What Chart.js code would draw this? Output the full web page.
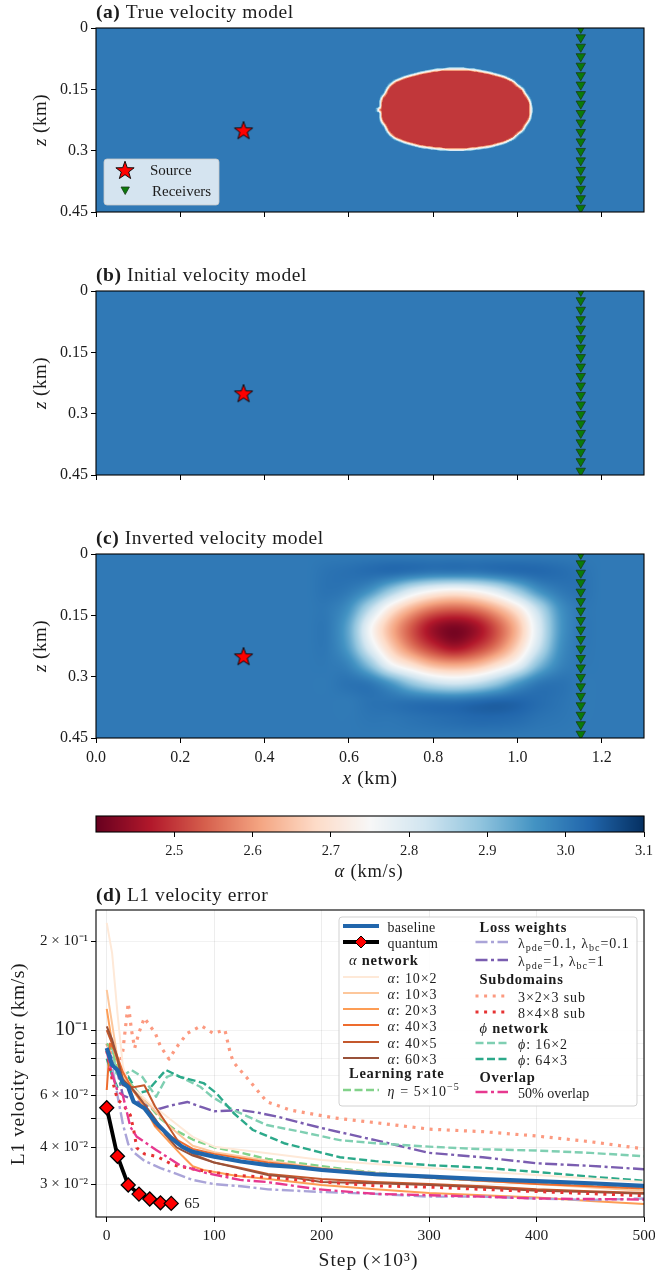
<!DOCTYPE html>
<html><head><meta charset="utf-8">
<script src="https://cdn.jsdelivr.net/npm/chart.js@4"></script>
<style>
html,body{margin:0;padding:0;background:#fff;width:655px;height:1273px;overflow:hidden}
canvas{position:absolute;left:0}
</style></head><body>
<canvas id="ca" width="655" height="240" style="top:0"></canvas>
<canvas id="cb" width="655" height="240" style="top:263px"></canvas>
<canvas id="cc" width="655" height="264" style="top:526px"></canvas>
<canvas id="cbar" width="655" height="95" style="top:790px"></canvas>
<canvas id="cd" width="655" height="388" style="top:885px"></canvas>
<script>
// ---------- velocity model data ----------
const sourceX=[0.35], sourceZ=[0.25];
const receiverZ=[0,0.0232,0.0463,0.0695,0.0926,0.1158,0.1389,0.1621,0.1853,0.2084,0.2316,0.2547,0.2779,0.3011,0.3242,0.3474,0.3705,0.3937,0.4168,0.44];
const receiverX=1.15;
const xTicks=[0,0.2,0.4,0.6,0.8,1.0,1.2];
const zTicks=[0,0.15,0.3,0.45];
const cbarTicks=[2.5,2.6,2.7,2.8,2.9,3.0,3.1];
const backgroundVelocity=3.0, anomalyVelocity=2.5;
// outline of the anomaly in the true model: depth, first and last x inside
const anomalyZ=[.100,.103,.11,.12,.13,.14,.15,.16,.17,.18,.195,.20,.205,.22,.23,.24,.25,.26,.27,.28,.29,.295,.298];
const anomalyX0=[.84,.805,.769,.733,.709,.697,.69,.686,.678,.675,.675,.665,.675,.675,.678,.686,.69,.697,.709,.733,.769,.805,.84];
const anomalyX1=[.87,.90,.935,.97,.99,1.0,1.013,1.018,1.025,1.03,1.032,1.032,1.032,1.03,1.025,1.018,1.013,1.0,.99,.97,.935,.90,.87];
// inverted model read on a coarse grid
const invX=[.5,.55,.6,.65,.7,.75,.8,.85,.9,.95,1.0,1.05,1.1,1.15,1.2];
const invZ=[0,.045,.09,.135,.18,.225,.27,.315,.36,.405,.45];
const invRow0=[3,3,3,3,3,3,3,3,3,3,3,3,3,3,3];
const invRow1=[3,3.01,3.015,3.02,3.02,3.01,3.0,3.0,3.0,3.01,3.02,3.025,3.02,3.01,3];
const invRow2=[3,3.01,3.0,2.96,2.88,2.80,2.75,2.73,2.75,2.80,2.88,2.96,3.0,3.01,3];
const invRow3=[3,3.0,2.96,2.84,2.71,2.62,2.56,2.54,2.56,2.62,2.71,2.84,2.96,3.0,3];
const invRow4=[3,3.0,2.93,2.76,2.63,2.53,2.45,2.42,2.45,2.53,2.64,2.80,2.95,3.0,3];
const invRow5=[3,3.0,2.94,2.79,2.66,2.56,2.49,2.45,2.49,2.56,2.67,2.82,2.96,3.0,3];
const invRow6=[3,3.0,2.98,2.89,2.76,2.69,2.63,2.61,2.63,2.69,2.77,2.90,2.98,3.0,3];
const invRow7=[3,3.0,3.01,3.0,2.95,2.88,2.83,2.81,2.83,2.88,2.95,3.0,3.01,3.0,3];
const invRow8=[3,3,3,3.01,3.01,3.01,3.01,3.01,3.02,3.03,3.03,3.02,3.01,3,3];
const invRow9=[3,3,3,3.005,3.005,3.01,3.015,3.02,3.025,3.025,3.02,3.01,3.005,3,3];
const invRow10=[3,3,3,3,3,3,3,3,3,3,3,3,3,3,3];
const invField=[invRow0,invRow1,invRow2,invRow3,invRow4,invRow5,invRow6,invRow7,invRow8,invRow9,invRow10];
const rdbuStops=['#67001f','#b2182b','#d6604d','#f4a582','#fddbc7','#f7f7f7','#d1e5f0','#92c5de','#4393c3','#2166ac','#053061'];
// ---------- L1 error curves: [step (x10^3), error (km/s)] ----------
const quantum=[[0,.0545],[10,.0373],[20,.0298],[30,.02775],[40,.0267],[50,.02592],[60,.0258]];
const baseline=[[0,.0869],[5,.0761],[10,.0732],[15,.0661],[20,.064],[25,.0571],[35,.0543],[45,.0488],[60,.043],[70,.0402],[80,.0386],[100,.0372],[125,.0358],[150,.0348],[175,.0343],[200,.0335],[250,.0324],[300,.0318],[350,.0312],[400,.0307],[450,.0302],[500,.0296]];
const a10x2=[[0,.231],[5,.1825],[10,.114],[15,.0755],[20,.066],[40,.0565],[60,.0495],[80,.0434],[100,.0402],[150,.0382],[200,.0362],[300,.034],[400,.0322],[500,.0305]];
const a10x3=[[0,.137],[5,.105],[10,.08],[15,.07],[25,.062],[40,.0555],[60,.0465],[80,.0405],[100,.0385],[150,.036],[200,.034],[300,.0315],[400,.03],[500,.0285]];
const a20x3=[[0,.118],[5,.09],[10,.078],[15,.068],[25,.062],[35,.055],[45,.047],[60,.041],[70,.0375],[80,.0345],[90,.0335],[120,.032],[150,.0312],[200,.0298],[250,.0288],[300,.028],[350,.0275],[400,.027],[450,.0263],[500,.0257]];
const a40x3=[[0,.0626],[3,.09],[8,.085],[15,.072],[25,.062],[35,.056],[45,.0475],[60,.0435],[80,.0395],[100,.038],[150,.0355],[200,.0338],[250,.0325],[300,.0315],[350,.0308],[400,.03],[450,.0295],[500,.029]];
const a40x5=[[0,.1],[5,.09],[10,.08],[15,.065],[25,.064],[35,.065],[45,.055],[60,.0455],[70,.04],[80,.038],[100,.0355],[125,.034],[150,.0325],[200,.0312],[250,.0305],[300,.03],[350,.0295],[400,.0288],[450,.0284],[500,.028]];
const a60x3=[[0,.103],[5,.093],[10,.08],[15,.068],[25,.0625],[35,.056],[45,.05],[55,.044],[65,.04],[80,.0375],[100,.0355],[125,.0338],[150,.0322],[175,.0315],[200,.0305],[250,.0302],[300,.0298],[350,.0292],[400,.0285],[450,.0282],[500,.0278]];
const eta5e5=[[0,.09],[5,.086],[10,.075],[15,.07],[25,.064],[35,.058],[50,.05],[65,.0455],[80,.0425],[100,.04],[125,.0383],[150,.0365],[200,.0345],[250,.0328],[300,.0315],[350,.0308],[400,.0302],[450,.0295],[500,.029]];
const lam01=[[0,.087],[5,.075],[10,.06],[15,.048],[20,.041],[25,.0385],[35,.036],[50,.034],[65,.0325],[80,.031],[100,.03],[125,.0295],[150,.0288],[200,.0282],[250,.0278],[300,.0272],[350,.0272],[400,.0268],[450,.0265],[500,.0268]];
const lam1=[[0,.087],[5,.08],[10,.072],[15,.06],[25,.058],[35,.056],[45,.0535],[60,.0555],[75,.057],[90,.0545],[100,.053],[125,.0535],[140,.0525],[160,.0507],[180,.0485],[200,.0465],[217,.045],[250,.0423],[300,.0383],[350,.037],[400,.0353],[450,.0346],[500,.0337]];
const sub323=[[0,.09],[5,.082],[10,.072],[15,.085],[20,.1235],[23,.1],[26,.0869],[30,.098],[35,.11],[40,.1035],[45,.098],[50,.088],[58,.0797],[65,.0875],[75,.0975],[88,.1034],[99,.0975],[110,.1],[115,.0833],[118,.0778],[124,.0732],[130,.0692],[149,.0571],[171,.0535],[212,.0503],[250,.0485],[300,.0461],[350,.0452],[400,.0437],[450,.0418],[500,.0395]];
const sub848=[[0,.085],[5,.068],[10,.058],[15,.056],[22,.0514],[25,.046],[28,.0398],[35,.038],[47,.0372],[62,.0348],[85,.0335],[116,.0322],[157,.0315],[203,.0305],[250,.0296],[300,.0293],[400,.0283],[500,.0274]];
const phi16x2=[[0,.085],[4.5,.0903],[9,.0712],[15,.07],[23,.0732],[33,.0694],[46,.0594],[56,.0694],[63,.0709],[87,.0642],[98,.0594],[118,.0535],[149,.0476],[180,.0452],[217,.0423],[250,.0413],[300,.0402],[350,.0394],[400,.039],[450,.0383],[500,.0373]];
const phi64x3=[[0,.08],[5,.07],[10,.064],[15,.068],[20,.0695],[29,.0611],[38,.0622],[55,.0732],[68,.0694],[90,.0661],[102,.0611],[118,.0523],[136,.0458],[165,.0413],[197,.0386],[217,.037],[250,.0359],[300,.0348],[350,.0341],[400,.033],[450,.0318],[500,.0308]];
const overlap50=[[0,.085],[5,.071],[10,.062],[15,.06],[22,.0469],[28,.0434],[46,.0392],[68,.0348],[93,.0327],[124,.031],[149,.0305],[197,.0288],[250,.0278],[300,.0275],[350,.0272],[400,.0268],[450,.0267],[500,.0266]];
const stepTicks=[0,100,200,300,400,500];
const errorTicks=[.2,.1,.09,.08,.07,.06,.05,.04,.03];
const errorLabels={0.2:'2 × 10⁻¹',0.1:'10⁻¹',0.06:'6 × 10⁻²',0.04:'4 × 10⁻²',0.03:'3 × 10⁻²'};

// ---------- helpers ----------
const FONT='"Liberation Serif","Times New Roman",serif', INK='#1c1c1c';
function fontOf(kind,size){
  const k={n:'',i:'italic ',b:'bold ',sub:'',sup:''}[kind]||'';
  const s=(kind==='sub'||kind==='sup')?size*0.72:size;
  return k+s+'px '+FONT;
}
function rich(ctx,segs,x,y,o){
  o=o||{};const size=o.size||14;
  ctx.save();ctx.fillStyle=INK;ctx.textBaseline='alphabetic';ctx.textAlign='left';
  ctx.letterSpacing=(o.ls||0)+'px';
  let w=0;const ws=segs.map(s=>{ctx.font=fontOf(s[1]||'n',size);const m=ctx.measureText(s[0]).width;w+=m;return m;});
  ctx.translate(x,y);if(o.rot)ctx.rotate(o.rot);
  let cx=o.align==='center'?-w/2:0;
  segs.forEach((s,i)=>{ctx.font=fontOf(s[1]||'n',size);
    const dy=s[1]==='sub'?size*0.22:(s[1]==='sup'?-size*0.38:0);
    ctx.fillText(s[0],cx,dy);cx+=ws[i];});
  ctx.restore();
}
function hexRgb(h){return [1,3,5].map(i=>parseInt(h.substr(i,2),16));}
const rdbu=rdbuStops.map(hexRgb);
function colorOf(v){ // value in km/s mapped on the colour bar range
  let t=(v-2.4)/(3.1-2.4);t=Math.max(0,Math.min(1,t))*(rdbu.length-1);
  const i=Math.min(rdbu.length-2,Math.floor(t)),f=t-i;
  return [0,1,2].map(c=>rdbu[i][c]+(rdbu[i+1][c]-rdbu[i][c])*f);
}
function cr(p0,p1,p2,p3,t){return .5*(2*p1+(p2-p0)*t+(2*p0-5*p1+4*p2-p3)*t*t+(3*p1-p0-3*p2+p3)*t*t*t);}
function sampleInverted(x,z){
  const fx=(x-invX[0])/(invX[1]-invX[0]),fz=(z-invZ[0])/(invZ[1]-invZ[0]);
  if(fx<=0||fx>=invX.length-1)return backgroundVelocity;
  const ix=Math.floor(fx),iz=Math.max(0,Math.min(invZ.length-2,Math.floor(fz)));
  const tx=fx-ix,tz=fz-iz,rows=[];
  for(let r=-1;r<=2;r++){const R=invField[Math.max(0,Math.min(invZ.length-1,iz+r))];
    const g=k=>R[Math.max(0,Math.min(invX.length-1,k))];
    rows.push(cr(g(ix-1),g(ix),g(ix+1),g(ix+2),tx));}
  return cr(rows[0],rows[1],rows[2],rows[3],tz);
}
function insideAnomaly(x,z){
  const n=anomalyZ.length;
  if(z<anomalyZ[0]||z>anomalyZ[n-1])return false;
  let k=0;while(k<n-2&&z>anomalyZ[k+1])k++;
  const t=(z-anomalyZ[k])/(anomalyZ[k+1]-anomalyZ[k]);
  return x>=anomalyX0[k]+(anomalyX0[k+1]-anomalyX0[k])*t&&x<=anomalyX1[k]+(anomalyX1[k+1]-anomalyX1[k])*t;
}
function sampleTrue(x,z){
  if(x<.64||x>1.06||z<.09||z>.31)return backgroundVelocity;
  let inC=0;
  for(let a=-2;a<=2;a++)for(let b=-2;b<=2;b++)if(insideAnomaly(x+a*.002,z+b*.002))inC++;
  return backgroundVelocity+(anomalyVelocity-backgroundVelocity)*inC/25;
}
function sampleFlat(){return backgroundVelocity;}
function fieldPlugin(sampler){return {id:'field',beforeDatasetsDraw(ch){
  const a=ch.chartArea,X=ch.scales.x,Y=ch.scales.y,w=Math.round(a.right-a.left),h=Math.round(a.bottom-a.top);
  const off=document.createElement('canvas');off.width=w;off.height=h;
  const o=off.getContext('2d'),img=o.createImageData(w,h);
  for(let j=0;j<h;j++){const z=Y.getValueForPixel(a.top+j+.5);
    for(let i=0;i<w;i++){const c=colorOf(sampler(X.getValueForPixel(a.left+i+.5),z));
      const p=4*(j*w+i);img.data[p]=c[0];img.data[p+1]=c[1];img.data[p+2]=c[2];img.data[p+3]=255;}}
  o.putImageData(img,0,0);ch.ctx.drawImage(off,a.left,a.top);
}};}
const framePlugin={id:'frame',afterDatasetsDraw(ch){const a=ch.chartArea,c=ch.ctx;
  c.save();c.strokeStyle='#000';c.lineWidth=1.1;c.strokeRect(a.left,a.top,a.right-a.left,a.bottom-a.top);c.restore();}};
function textPlugin(fn){return {id:'texts',afterDraw(ch){fn(ch,ch.ctx);}};}
const starCanvas=(()=>{const s=document.createElement('canvas');s.width=s.height=24;const c=s.getContext('2d');
  c.beginPath();for(let k=0;k<10;k++){const r=k%2?3.9:9.6,t=-Math.PI/2+k*Math.PI/5;
    c[k?'lineTo':'moveTo'](12+r*Math.cos(t),12.8+r*Math.sin(t));}
  c.closePath();c.fillStyle='#f00';c.fill();c.strokeStyle='#000';c.lineWidth=.9;c.lineJoin='miter';c.stroke();return s;})();
function marksDatasets(){return [
  {label:'Source',data:sourceX.map((x,i)=>({x,y:sourceZ[i]})),pointStyle:starCanvas,pointRadius:10,showLine:false},
  {label:'Receivers',data:receiverZ.map(z=>({x:receiverX,y:z})),pointStyle:'triangle',rotation:180,pointRadius:5.4,
   pointBackgroundColor:'#0a7a0a',pointBorderColor:'#1a3a1a',pointBorderWidth:.8,showLine:false}
];}
const fixAxisX=h=>s=>{s.height=h;s.paddingLeft=s.paddingRight=0;};
const fixAxisY=w=>s=>{s.width=w;s.paddingTop=s.paddingBottom=0;};
function velocityChart(id,sampler,title,showX,hX,extra){
  new Chart(document.getElementById(id),{type:'scatter',data:{datasets:marksDatasets()},
   plugins:[fieldPlugin(sampler),framePlugin,textPlugin((ch,c)=>{
     rich(c,title,96,18,{size:19.5,ls:.55});
     rich(c,[['z','i'],[' (km)','n']],46,120,{size:19,rot:-Math.PI/2,align:'center',ls:.5});
     if(extra)extra(ch,c);
   })],
   options:{responsive:false,animation:false,layout:{padding:{left:0,right:11,top:28,bottom:0}},
    plugins:{legend:{display:false},tooltip:{enabled:false}},
    scales:{
     x:{type:'linear',min:0,max:1.3,afterBuildTicks:s=>{s.ticks=xTicks.map(value=>({value}));},afterFit:fixAxisX(hX),
        grid:{display:true,drawOnChartArea:false,tickLength:5,tickColor:'#000'},border:{display:false},
        ticks:{display:showX,autoSkip:false,maxRotation:0,padding:5,color:INK,font:{family:FONT,size:16},callback:v=>v.toFixed(1)}},
     y:{type:'linear',reverse:true,min:0,max:.45,afterBuildTicks:s=>{s.ticks=zTicks.map(value=>({value}));},afterFit:fixAxisY(96),
        grid:{display:true,drawOnChartArea:false,tickLength:5,tickColor:'#000'},border:{display:false},
        ticks:{autoSkip:false,padding:3,color:INK,font:{family:FONT,size:16},callback:v=>String(v)}}
    }}});
}
velocityChart('ca',sampleTrue,[['(a)','b'],[' True velocity model','n']],false,28,(ch,c)=>{
  c.save();c.fillStyle='rgba(255,255,255,.8)';c.strokeStyle='rgba(200,200,200,.8)';c.lineWidth=1;
  c.beginPath();c.roundRect(104,159,115,46,3);c.fill();c.stroke();
  c.drawImage(starCanvas,113,158);
  c.beginPath();c.moveTo(121,187);c.lineTo(129.4,187);c.lineTo(125.2,194.5);c.closePath();
  c.fillStyle='#0a7a0a';c.fill();c.strokeStyle='#1a3a1a';c.lineWidth=.8;c.stroke();c.restore();
  rich(c,[['Source','n']],150,175,{size:15});
  rich(c,[['Receivers','n']],152,196,{size:15});
});
velocityChart('cb',sampleFlat,[['(b)','b'],[' Initial velocity model','n']],false,28);
velocityChart('cc',sampleInverted,[['(c)','b'],[' Inverted velocity model','n']],true,52,(ch,c)=>{
  rich(c,[['x','i'],[' (km)','n']],370,258,{size:19.5,align:'center',ls:.6});
});

// ---------- colour bar ----------
new Chart(document.getElementById('cbar'),{type:'scatter',data:{datasets:[]},
 plugins:[{id:'bar',beforeDatasetsDraw(ch){const a=ch.chartArea,X=ch.scales.x,c=ch.ctx;
   for(let p=a.left;p<a.right;p++){const q=colorOf(X.getValueForPixel(p+.5));
     c.fillStyle='rgb('+q.map(Math.round).join(',')+')';c.fillRect(p,a.top,1.2,a.bottom-a.top);}
 }},framePlugin,textPlugin((ch,c)=>rich(c,[['α','i'],[' (km/s)','n']],369,87,{size:18.5,align:'center',ls:.8}))],
 options:{responsive:false,animation:false,layout:{padding:{left:0,right:11,top:26,bottom:0}},
  plugins:{legend:{display:false},tooltip:{enabled:false}},
  scales:{
   x:{type:'linear',min:2.4,max:3.1,afterBuildTicks:s=>{s.ticks=cbarTicks.map(value=>({value}));},afterFit:fixAxisX(53),
      grid:{display:true,drawOnChartArea:false,tickLength:5,tickColor:'#000'},border:{display:false},
      ticks:{autoSkip:false,maxRotation:0,padding:5,color:INK,font:{family:FONT,size:14.5},callback:v=>v.toFixed(1)}},
   y:{display:false,min:0,max:1,afterFit:fixAxisY(96)}
  }}});

// ---------- L1 error ----------
const styleBase={pointRadius:0,fill:false,tension:0,borderCapStyle:'butt',borderJoinStyle:'round'};
const dashLong=[8,3.5],dashDot=[12,3.5,3,3.5],dots=[3,5.6];
const curves=[
 {label:'quantum',data:quantum,borderColor:'#000',borderWidth:3.8,pointRadius:7,pointStyle:'rectRot',pointBackgroundColor:'#f00',pointBorderColor:'#000',pointBorderWidth:1.3},
 {label:'baseline',data:baseline,borderColor:'#2166ac',borderWidth:4.2},
 {label:'50% overlap',data:overlap50,borderColor:'#e7388f',borderWidth:2.4,borderDash:dashDot},
 {label:'8x4x8 sub',data:sub848,borderColor:'#e63232',borderWidth:3,borderDash:dots},
 {label:'lam 0.1',data:lam01,borderColor:'#aaa4d8',borderWidth:2.4,borderDash:dashDot},
 {label:'a60x3',data:a60x3,borderColor:'#99523a',borderWidth:2},
 {label:'a40x5',data:a40x5,borderColor:'#c4582c',borderWidth:2},
 {label:'a40x3',data:a40x3,borderColor:'#ee6c2e',borderWidth:2},
 {label:'a20x3',data:a20x3,borderColor:'#fd9d55',borderWidth:2},
 {label:'a10x3',data:a10x3,borderColor:'#fdc79b',borderWidth:2},
 {label:'a10x2',data:a10x2,borderColor:'#fee9d8',borderWidth:2},
 {label:'eta',data:eta5e5,borderColor:'#82d28a',borderWidth:2.4,borderDash:dashLong},
 {label:'phi 64x3',data:phi64x3,borderColor:'#2ca98a',borderWidth:2.4,borderDash:dashLong},
 {label:'phi 16x2',data:phi16x2,borderColor:'#7fcfb2',borderWidth:2.4,borderDash:dashLong},
 {label:'lam 1',data:lam1,borderColor:'#7a5db0',borderWidth:2.4,borderDash:dashDot},
 {label:'3x2x3 sub',data:sub323,borderColor:'#fc9a80',borderWidth:3.2,borderDash:dots}
].map(d=>Object.assign({},styleBase,d,{data:d.data.map(p=>({x:p[0],y:p[1]})),showLine:true}));

// legend rows
const legendLeft=[
 {seg:[['baseline','n']],c:'#2166ac',w:4.2,y:42,ls:.25},
 {seg:[['quantum','n']],c:'#000',w:3.8,y:58,mk:1,ls:.25},
 {head:[['α ','i'],['network','b']],y:75},
 {seg:[['α','i'],[': 10×2','n']],c:'#fee9d8',w:2,y:93,ls:.9},
 {seg:[['α','i'],[': 10×3','n']],c:'#fdc79b',w:2,y:109,ls:.9},
 {seg:[['α','i'],[': 20×3','n']],c:'#fd9d55',w:2,y:125,ls:.9},
 {seg:[['α','i'],[': 40×3','n']],c:'#ee6c2e',w:2,y:141,ls:.9},
 {seg:[['α','i'],[': 40×5','n']],c:'#c4582c',w:2,y:158,ls:.9},
 {seg:[['α','i'],[': 60×3','n']],c:'#99523a',w:2,y:174,ls:.9},
 {head:[['Learning rate','b']],y:188},
 {seg:[['η','i'],[' = 5×10','n'],['−5','sup']],c:'#82d28a',w:2.4,d:dashLong,y:206,ls:1.1}
];
const legendRight=[
 {head:[['Loss weights','b']],y:42},
 {seg:[['λ','n'],['pde','sub'],['=0.1, ','n'],['λ','n'],['bc','sub'],['=0.1','n']],c:'#aaa4d8',w:2.4,d:dashDot,y:58,ls:.95},
 {seg:[['λ','n'],['pde','sub'],['=1, ','n'],['λ','n'],['bc','sub'],['=1','n']],c:'#7a5db0',w:2.4,d:dashDot,y:76,ls:.95},
 {head:[['Subdomains','b']],y:94},
 {seg:[['3×2×3 sub','n']],c:'#fc9a80',w:3,d:dots,y:112,ls:.9},
 {seg:[['8×4×8 sub','n']],c:'#e63232',w:3,d:dots,y:128,ls:.9},
 {head:[['ϕ ','i'],['network','b']],y:143},
 {seg:[['ϕ','i'],[': 16×2','n']],c:'#7fcfb2',w:2.4,d:dashLong,y:159,ls:.9},
 {seg:[['ϕ','i'],[': 64×3','n']],c:'#2ca98a',w:2.4,d:dashLong,y:175,ls:.9},
 {head:[['Overlap','b']],y:192},
 {seg:[['50% overlap','n']],c:'#e7388f',w:2.4,d:dashDot,y:208,ls:0}
];
function drawLegend(c){
  c.save();c.fillStyle='rgba(255,255,255,.85)';c.strokeStyle='rgba(204,204,204,.9)';c.lineWidth=1;
  c.beginPath();c.roundRect(339,32,298,189,3);c.fill();c.stroke();c.restore();
  const col=(rows,x0,x1,tx,hx)=>rows.forEach(r=>{
    if(r.head){rich(c,r.head,hx,r.y+4.5,{size:14.5,ls:.75});return;}
    c.save();c.strokeStyle=r.c;c.lineWidth=r.w;c.setLineDash(r.d||[]);c.beginPath();c.moveTo(x0,r.y-1);c.lineTo(x1,r.y-1);c.stroke();
    if(r.mk){const mx=(x0+x1)/2;c.setLineDash([]);c.beginPath();c.moveTo(mx,r.y-7);c.lineTo(mx+6,r.y-1);c.lineTo(mx,r.y+5);c.lineTo(mx-6,r.y-1);c.closePath();
      c.fillStyle='#f00';c.fill();c.strokeStyle='#000';c.lineWidth=1;c.stroke();}
    c.restore();
    rich(c,r.seg,tx,r.y+4.5,{size:14,ls:r.ls});
  });
  col(legendLeft,343,379,387.5,349);
  col(legendRight,475.5,508,518,479.5);
}
new Chart(document.getElementById('cd'),{type:'scatter',data:{datasets:curves},
 plugins:[framePlugin,textPlugin((ch,c)=>{
   drawLegend(c);
   rich(c,[['(d)','b'],[' L1 velocity error','n']],96,16,{size:19.5,ls:.55});
   rich(c,[['L1 velocity error (km/s)','n']],24,179,{size:19.5,rot:-Math.PI/2,align:'center',ls:.6});
   rich(c,[['Step (×10³)','n']],368.5,381,{size:19.5,align:'center',ls:1});
   const X=ch.scales.x,Y=ch.scales.y;
   rich(c,[['65','n']],X.getPixelForValue(60)+13,Y.getPixelForValue(.0258)+5,{size:15.5});
 })],
 options:{responsive:false,animation:false,layout:{padding:{left:0,right:11,top:25,bottom:0}},
  plugins:{legend:{display:false},tooltip:{enabled:false}},
  scales:{
   x:{type:'linear',min:-10,max:500,afterBuildTicks:s=>{s.ticks=stepTicks.map(value=>({value}));},afterFit:fixAxisX(56),
      grid:{display:true,color:'rgba(0,0,0,.07)',tickLength:5,tickColor:'#000'},border:{display:false},
      ticks:{autoSkip:false,maxRotation:0,padding:5,color:INK,font:{family:FONT,size:15.5},callback:v=>String(v)}},
   y:{type:'logarithmic',min:.0232,max:.2556,afterBuildTicks:s=>{s.ticks=errorTicks.map(value=>({value}));},afterFit:fixAxisY(96),
      grid:{display:true,color:'rgba(0,0,0,.05)',tickLength:5,tickColor:'#000'},border:{display:false},
      ticks:{autoSkip:false,padding:3,color:INK,font:c=>({family:FONT,size:c.tick&&c.tick.value===.1?20:15}),
             callback:v=>errorLabels[v]||''}}
  }}});
</script></body></html>
